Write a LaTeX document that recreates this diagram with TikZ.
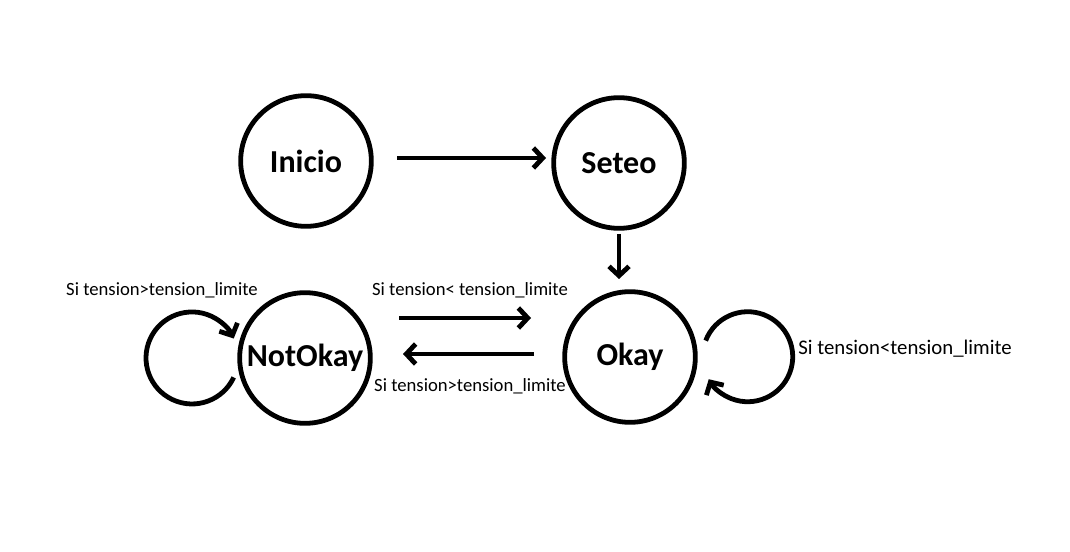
\documentclass[tikz,border=0pt]{standalone}
\usepackage{fontspec}
\setmainfont{Carlito}
\usetikzlibrary{arrows.meta}
\begin{document}
\begin{tikzpicture}[x=0.75pt,y=-0.75pt,
  state/.style={circle,draw,line width=3.6pt,minimum size=98pt,inner sep=0pt,
    font=\fontsize{24}{27}\selectfont\bfseries},
  arr/.style={line width=3.6pt,-{Straight Barb[length=7pt,width=15pt]}},
  lbl/.style={font=\fontsize{14}{16}\selectfont,inner sep=0pt}]
\useasboundingbox (0,0) rectangle (1070,552);
\fill[white] (0,0) rectangle (1070,552);
\node[state] (ini) at (306,161) {Inicio};
\node[state] (set) at (619,163) {Seteo};
\node[state] (ok) at (630,357) {Okay};
\node[state] (nok) at (305,358) {NotOkay};
\coordinate (a1s) at (397,158);
\coordinate (a1e) at (546,158);
\draw[arr] (a1s) -- (a1e);
\coordinate (a2s) at (619,234);
\coordinate (a2e) at (619,279);
\draw[arr] (a2s) -- (a2e);
\coordinate (a3s) at (399,318);
\coordinate (a3e) at (531,318);
\draw[arr] (a3s) -- (a3e);
\coordinate (a4s) at (534,354);
\coordinate (a4e) at (403,354);
\draw[arr] (a4s) -- (a4e);
\coordinate (l1s) at (233.7,377.4);
\draw[arr] (l1s) arc[start angle=25,end angle=335,radius=46];
\coordinate (l2s) at (705.7,340.6);
\draw[arr] (l2s) arc[start angle=201,end angle=510,radius=45];
\node[lbl] (t1) at (162,290) {Si tension>tension\_limite};
\node[lbl] (t2) at (470,290) {Si tension< tension\_limite};
\node[lbl] (t3) at (470,386) {Si tension>tension\_limite};
\node[lbl,anchor=west,font=\fontsize{15.6}{18}\selectfont] (t4) at (798,349) {Si tension<tension\_limite};
\end{tikzpicture}
\end{document}
